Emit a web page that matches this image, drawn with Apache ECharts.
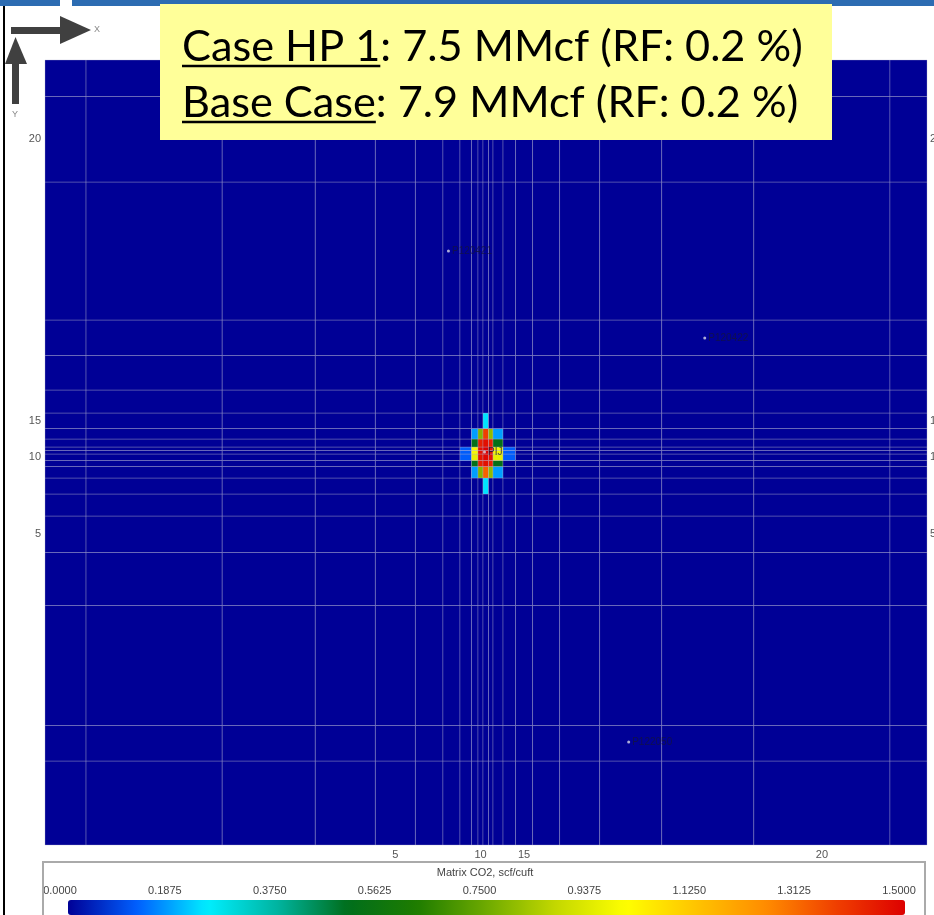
<!DOCTYPE html>
<html>
<head>
<meta charset="utf-8">
<script src="https://cdn.jsdelivr.net/npm/echarts@6/dist/echarts.min.js"></script>
<style>
  html, body { margin: 0; padding: 0; background: #fff; }
  #co2-map { width: 934px; height: 915px; }
</style>
</head>
<body>
<div id="co2-map"></div>
<script>
// grid block sizes (left -> right, bottom -> top)
const xCellWidths = [41, 136, 93, 60, 40, 27.5, 17, 11.5, 6.5, 5, 5.5, 4.5, 10, 12.5, 17, 27, 40, 62, 92, 136, 37];
const yCellHeights = [84, 35.5, 120, 53, 36.5, 22, 16, 11.5, 6, 6.5, 3.5, 3.5, 8, 10.5, 15.5, 23, 34.5, 35.5, 138, 85.5, 36.5];

// non-zero Matrix CO2 cells around the injector: [i, j, scf/cuft] (1-based)
const co2Hot = [
  [11, 15, 0.24],
  [9, 14, 0.18], [10, 14, 0.78], [11, 14, 1.38], [12, 14, 0.8], [13, 14, 0.18],
  [9, 13, 0.52], [10, 13, 1.44], [11, 13, 1.47], [12, 13, 1.44], [13, 13, 0.52],
  [8, 12, 0.12], [9, 12, 0.98], [10, 12, 1.47], [11, 12, 1.5], [12, 12, 1.47], [13, 12, 0.98], [14, 12, 0.12],
  [8, 11, 0.12], [9, 11, 0.98], [10, 11, 1.47], [11, 11, 1.5], [12, 11, 1.47], [13, 11, 0.98], [14, 11, 0.12],
  [8, 10, 0.12], [9, 10, 0.95], [10, 10, 1.46], [11, 10, 1.49], [12, 10, 1.46], [13, 10, 0.95], [14, 10, 0.12],
  [9, 9, 0.52], [10, 9, 1.44], [11, 9, 1.47], [12, 9, 1.44], [13, 9, 0.52],
  [9, 8, 0.18], [10, 8, 0.78], [11, 8, 1.32], [12, 8, 0.8], [13, 8, 0.18],
  [11, 7, 0.24]
];

const labelCells = [5, 10, 15, 20];

const wellNames = ['P120421', 'P120422', 'P122050', 'PIJ'];
const wellX = [403, 659, 583, 439];
const wellY = [594, 507, 103, 393];

const co2Min = 0;
const co2Max = 1.5;
const co2Step = 0.1875;
const co2Title = 'Matrix CO2, scf/cuft';

const caseLines = [
  ['Case HP 1', ': 7.5 MMcf (RF: 0.2 %)'],
  ['Base Case', ': 7.9 MMcf (RF: 0.2 %)']
];

// rainbow colour table of the simulator (evenly spaced from min to max)
const colormap = ['#000096', '#0060ff', '#00eeff', '#00b4a0', '#006e1c', '#1e7c00', '#6eaa00',
  '#c4d800', '#ffff00', '#ffc400', '#ff8c00', '#f04000', '#dd0000'];

// cell edges
function edges(sizes) {
  const e = [0];
  sizes.forEach(s => e.push(e[e.length - 1] + s));
  return e;
}
const xEdges = edges(xCellWidths);
const yEdges = edges(yCellHeights);
const xTotal = xEdges[xEdges.length - 1];
const yTotal = yEdges[yEdges.length - 1];

const hotLookup = {};
co2Hot.forEach(c => { hotLookup[c[0] + '_' + c[1]] = c[2]; });

const cells = [];
for (let i = 1; i <= xCellWidths.length; i++) {
  for (let j = 1; j <= yCellHeights.length; j++) {
    const v = hotLookup[i + '_' + j] || 0;
    cells.push([xEdges[i - 1], xEdges[i], yEdges[j - 1], yEdges[j], v]);
  }
}

const xLabelPos = labelCells.map(c => (xEdges[c - 1] + xEdges[c]) / 2);
const yLabelPos = labelCells.map(c => (yEdges[c - 1] + yEdges[c]) / 2);
function cellLabel(pos) {
  return function (v) {
    let best = 0;
    pos.forEach((p, k) => { if (Math.abs(p - v) < Math.abs(pos[best] - v)) best = k; });
    return String(labelCells[best]);
  };
}

const narrow = '"Liberation Sans Narrow", "Liberation Sans", Arial, sans-serif';
const boxFont = 'Lato, "Open Sans", sans-serif';

// fit the case text to the yellow box the way it is on the slide
const ctx = document.createElement('canvas').getContext('2d');
ctx.font = '40px ' + boxFont;
const boxFontSize = 40 * 621 / ctx.measureText(caseLines[0].join('')).width;
ctx.font = boxFontSize + 'px ' + boxFont;

function caseText(line, y) {
  const headW = ctx.measureText(line[0]).width;
  return [
    { type: 'text', z: 101, style: { text: line.join(''), x: 182, y: y, fontSize: boxFontSize, fontFamily: boxFont, fill: '#000', verticalAlign: 'middle' } },
    { type: 'line', z: 101, shape: { x1: 182, y1: y + 19, x2: 182 + headW, y2: y + 19 }, style: { stroke: '#000', lineWidth: 2.5 } }
  ];
}

function renderCell(params, api) {
  const p0 = api.coord([api.value(0), api.value(3)]);
  const p1 = api.coord([api.value(1), api.value(2)]);
  return {
    type: 'rect',
    shape: { x: p0[0], y: p0[1], width: p1[0] - p0[0], height: p1[1] - p0[1] },
    style: { fill: api.visual('color'), stroke: 'rgba(175,175,205,0.32)', lineWidth: 1 }
  };
}

const chart = echarts.init(document.getElementById('co2-map'));

const axisOff = { axisLine: { show: false }, axisTick: { show: false }, splitLine: { show: false } };

chart.setOption({
  animation: false,
  grid: [
    { left: 45, top: 60, width: 882, height: 785, outerBoundsMode: 'none', containLabel: false },
    { left: 60, top: 899, width: 839, height: 16, outerBoundsMode: 'none', containLabel: false }
  ],
  xAxis: [
    Object.assign({
      gridIndex: 0, type: 'value', min: 0, max: xTotal,
      axisLabel: { customValues: xLabelPos, formatter: cellLabel(xLabelPos), color: '#555', fontSize: 11, fontFamily: narrow, margin: 4 }
    }, axisOff),
    Object.assign({
      gridIndex: 1, type: 'value', position: 'top', min: co2Min, max: co2Max, interval: co2Step,
      axisLabel: { formatter: v => v.toFixed(4), color: '#444', fontSize: 11, fontFamily: narrow, margin: 3, showMinLabel: true, showMaxLabel: true }
    }, axisOff)
  ],
  yAxis: [
    Object.assign({
      gridIndex: 0, type: 'value', min: 0, max: yTotal, position: 'left',
      axisLabel: { customValues: yLabelPos, formatter: cellLabel(yLabelPos), color: '#555', fontSize: 11, fontFamily: narrow, margin: 4 }
    }, axisOff),
    Object.assign({
      gridIndex: 0, type: 'value', min: 0, max: yTotal, position: 'right',
      axisLabel: { customValues: yLabelPos, formatter: cellLabel(yLabelPos), color: '#555', fontSize: 11, fontFamily: narrow, margin: 3 }
    }, axisOff),
    { gridIndex: 1, type: 'value', show: false, min: 0, max: 1 }
  ],
  visualMap: {
    type: 'continuous',
    seriesIndex: 0,
    dimension: 4,
    min: co2Min,
    max: co2Max,
    inRange: { color: colormap },
    orient: 'horizontal',
    left: 68,
    top: 900,
    itemWidth: 15,
    itemHeight: 837,
    calculable: false,
    hoverLink: false,
    padding: 0,
    text: null,
    textStyle: { fontSize: 0 }
  },
  series: [
    {
      type: 'custom',
      xAxisIndex: 0,
      yAxisIndex: 0,
      renderItem: renderCell,
      encode: { x: [0, 1], y: [2, 3] },
      data: cells,
      silent: true
    },
    {
      type: 'scatter',
      xAxisIndex: 0,
      yAxisIndex: 0,
      symbolSize: 3,
      itemStyle: { color: '#d8d8e8' },
      label: { show: true, position: 'right', distance: 2, formatter: '{b}', color: '#14143c', fontSize: 10, fontFamily: narrow },
      data: wellNames.map((n, k) => ({ name: n, value: [wellX[k], wellY[k]] })),
      z: 5
    }
  ],
  graphic: [
    // slide decorations
    { type: 'rect', z: 100, shape: { x: 0, y: 0, width: 60, height: 6 }, style: { fill: '#2c6cb2' } },
    { type: 'rect', z: 100, shape: { x: 72, y: 0, width: 862, height: 6 }, style: { fill: '#2c6cb2' } },
    { type: 'line', z: 100, shape: { x1: 4, y1: 6, x2: 4, y2: 915 }, style: { stroke: '#000', lineWidth: 2 } },
    // orientation arrows
    { type: 'rect', z: 100, shape: { x: 11, y: 27, width: 52, height: 7 }, style: { fill: '#404040' } },
    { type: 'polygon', z: 100, shape: { points: [[60, 16], [91, 30], [60, 44]] }, style: { fill: '#404040' } },
    { type: 'text', z: 100, style: { text: 'X', x: 94, y: 30, fontSize: 9, fill: '#888', verticalAlign: 'middle' } },
    { type: 'rect', z: 100, shape: { x: 12, y: 60, width: 7, height: 44 }, style: { fill: '#404040' } },
    { type: 'polygon', z: 100, shape: { points: [[5, 64], [15.5, 37], [27, 64]] }, style: { fill: '#404040' } },
    { type: 'text', z: 100, style: { text: 'Y', x: 15, y: 115, fontSize: 9, fill: '#888', align: 'center', verticalAlign: 'middle' } },
    // result box
    { type: 'rect', z: 100, shape: { x: 160, y: 4, width: 672, height: 136 }, style: { fill: '#ffff99' } }
  ]
    .concat(caseText(caseLines[0], 47))
    .concat(caseText(caseLines[1], 103))
    .concat([
      { type: 'rect', z: 100, shape: { x: 43, y: 862, width: 882, height: 80 }, style: { fill: 'none', stroke: '#aaa', lineWidth: 2 } },
      { type: 'text', z: 100, style: { text: co2Title, x: 485, y: 873, fontSize: 11, fontFamily: narrow, fill: '#444', align: 'center', verticalAlign: 'middle' } }
    ])
});
</script>
</body>
</html>
